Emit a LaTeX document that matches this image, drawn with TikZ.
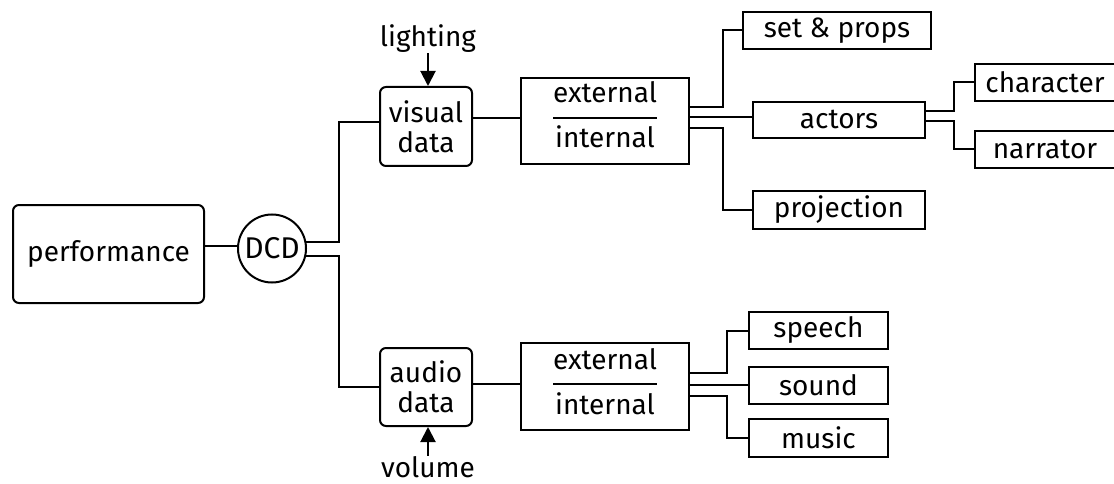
\documentclass[tikz,border=0pt]{standalone}
\usepackage{fontspec}
\setmainfont{Fira Sans}
\usetikzlibrary{arrows.meta}
\begin{document}
\begin{tikzpicture}[x=1pt,y=-1pt,
  every node/.style={font=\fontsize{28}{30}\selectfont, inner sep=0pt},
  rbox/.style={draw, rounded corners=6pt, line width=2pt, align=center},
  sbox/.style={draw, line width=2pt},
  cbox/.style={draw, circle, line width=2pt},
  wire/.style={line width=2pt},
  arr/.style={line width=2pt, -{Triangle[length=15pt,width=15pt]}}]
\clip (0,0) rectangle (1114,484);
\fill[white] (0,0) rectangle (1114,484);

% left part
\node[rbox, minimum width=191pt, minimum height=98pt] (perf) at (108.5,254) {performance};
\node[cbox, minimum size=68pt] (dcd) at (272,248.5) {\fontsize{30}{30}\selectfont DCD};
\node[rbox, minimum width=92pt, minimum height=79pt] (vis) at (426,126.5) {visual\\data};
\node[rbox, minimum width=92pt, minimum height=78pt] (aud) at (426,387) {audio\\data};
\node[anchor=base] (light) at (428,47) {lighting};
\node[anchor=base] (vol) at (428,477) {volume};

% external / internal boxes
\node[sbox, minimum width=168pt, minimum height=86pt] (ext1) at (605,121) {};
\node[anchor=base] (ext1a) at (605,103) {external};
\node[anchor=base] (ext1b) at (605,148) {internal};
\node[sbox, minimum width=168pt, minimum height=87pt] (ext2) at (605,386.5) {};
\node[anchor=base] (ext2a) at (605,369) {external};
\node[anchor=base] (ext2b) at (605,414) {internal};

% right boxes
\node[sbox, minimum width=188pt, minimum height=37pt] (setp) at (837,30.5) {set \& props};
\node[sbox, minimum width=172pt, minimum height=36pt] (act) at (839,119.7) {actors};
\node[sbox, minimum width=172pt, minimum height=37.5pt] (proj) at (839,209.8) {projection};
\node[sbox, minimum width=140pt, minimum height=37pt] (char) at (1045,82.5) {character};
\node[sbox, minimum width=140pt, minimum height=37pt] (narr) at (1045,149.2) {narrator};
\node[sbox, minimum width=139pt, minimum height=37pt] (speech) at (818.5,330.5) {speech};
\node[sbox, minimum width=139pt, minimum height=37pt] (sound) at (818.5,385.3) {sound};
\node[sbox, minimum width=139pt, minimum height=38pt] (music) at (818.5,438) {music};

% junction columns
\coordinate (jd) at (339,0);
\coordinate (j1) at (723,0);
\coordinate (j2) at (954,0);
\coordinate (j3) at (727,0);

% connectors
\draw[wire] ([yshift=2.5pt]dcd.west) -- ([yshift=2.5pt]dcd.west -| perf.east);
\draw[wire] (dcd.10) -- (dcd.10 -| jd) |- ([yshift=4.5pt]vis.west);
\draw[wire] (dcd.-13) -- (dcd.-13 -| jd) |- (aud.west);
\draw[wire] ([yshift=8.5pt]vis.east) -- ([yshift=8.5pt]vis.east -| ext1.west);
\draw[wire] ([yshift=3pt]aud.east) -- ([yshift=3pt]aud.east -| ext2.west);
\draw[wire] ([shift={(-52,-3)}]ext1.center) -- ([shift={(52,-3)}]ext1.center);
\draw[wire] ([shift={(-52,-2.5)}]ext2.center) -- ([shift={(52,-2.5)}]ext2.center);
\draw[arr] (light.south) -- (light.south |- vis.north);
\draw[arr] (vol.north) -- (vol.north |- aud.south);

\draw[wire] (ext1.east |- 0,107) -- (j1 |- 0,107) |- (setp.west);
\draw[wire] (ext1.east |- 0,117) -- (act.west |- 0,117);
\draw[wire] (ext1.east |- 0,128) -- (j1 |- 0,128) |- (proj.west);

\draw[wire] (act.east |- 0,111) -- (j2 |- 0,111) |- (char.west);
\draw[wire] (act.east |- 0,121) -- (j2 |- 0,121) |- (narr.west);

\draw[wire] (ext2.east |- 0,373) -- (j3 |- 0,373) |- (speech.west);
\draw[wire] (ext2.east |- 0,385) -- (sound.west |- 0,385);
\draw[wire] (ext2.east |- 0,396) -- (j3 |- 0,396) |- (music.west);
\end{tikzpicture}
\end{document}
